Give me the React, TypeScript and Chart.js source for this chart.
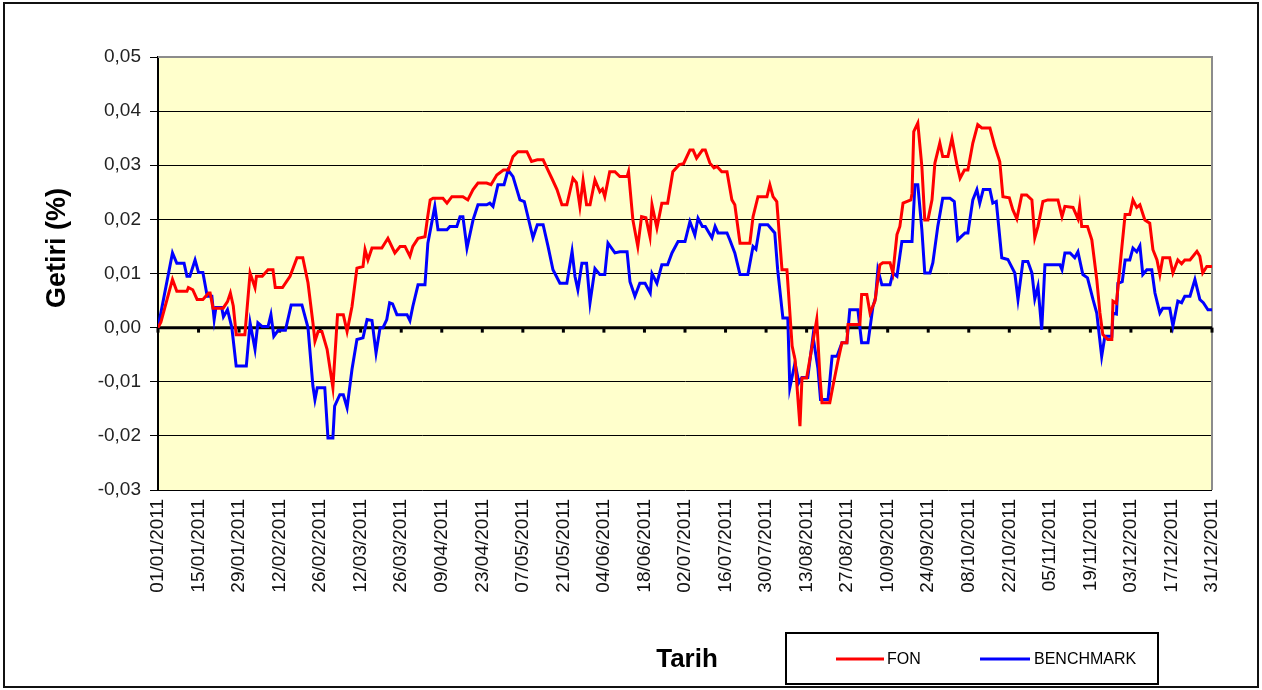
import React, { useEffect, useRef } from 'react';
import { Chart, registerables } from 'chart.js';

Chart.register(...registerables);

// X axis tick labels (every 14 days from 01/01/2011)
const tickLabels = [
  '01/01/2011', '15/01/2011', '29/01/2011', '12/02/2011', '26/02/2011', '12/03/2011', '26/03/2011',
  '09/04/2011', '23/04/2011', '07/05/2011', '21/05/2011', '04/06/2011', '18/06/2011', '02/07/2011',
  '16/07/2011', '30/07/2011', '13/08/2011', '27/08/2011', '10/09/2011', '24/09/2011', '08/10/2011',
  '22/10/2011', '05/11/2011', '19/11/2011', '03/12/2011', '17/12/2011', '31/12/2011',
];

const seriesNames = ['FON', 'BENCHMARK'];

// FON (red): day of year (0 = 01/01/2011) and value
const fonDays = [
  0, 1, 5, 6.5, 10, 10.5, 12, 13.5, 15.5, 17.5, 18, 19, 22.5, 24, 25, 26, 27, 30, 31.8, 33.5,
  34, 36, 38, 39.7, 40.5, 43, 45.6, 48, 50, 51.8, 53.5, 54.2, 55.3, 56.6, 58.4, 60.4, 62, 64, 65.3, 67,
  68.7, 70.8, 71.5, 72.5, 73.9, 77.3, 79.4, 81.8, 83.6, 85.3, 87, 88, 89.8, 92.2, 93, 94, 95, 98.4, 99.8, 101.5,
  105.3, 107, 108.8, 110.5, 113.5, 115, 117, 119.3, 121, 122.6, 124.3, 127.4, 129, 131, 133, 134.3, 136, 137.8, 139.5, 141.2,
  143.3, 144.5, 145.7, 146.8, 148, 149.2, 150.9, 152.6, 153.5, 154.3, 156, 157.8, 159.5, 162, 162.5, 164, 165.7, 167, 168.5, 169.9,
  170.6, 172.3, 174, 176, 177.8, 180, 181.5, 183.7, 184.8, 186, 188, 189, 190.6, 192, 193, 194.7, 196.5, 198.2, 199.2, 201,
  204.4, 205.5, 207.2, 210.3, 211.3, 212.4, 213.7, 215.5, 217.2, 219, 220, 221.7, 222.4, 224, 227.5, 228.6, 229.3, 232, 233.1, 234.8,
  236.2, 237.9, 238.3, 242.4, 243, 244.8, 245.9, 247.6, 249.3, 250.3, 252.8, 253.8, 255.2, 256.2, 257.3, 260, 260.4, 261, 262.4, 263.8,
  264.8, 265.9, 267.3, 268.3, 270, 271, 272.8, 274.2, 275.9, 277, 278.5, 279.7, 281.4, 283.1, 284.5, 287.3, 289, 290.7, 291.8, 294,
  295.2, 296.6, 298.3, 300, 301.8, 302.8, 303.9, 305.6, 307.3, 310.8, 312.2, 313.2, 316, 317.7, 318.3, 319, 321, 322.5, 324.2, 325.3,
  326.3, 328, 329.4, 329.8, 331, 332.9, 334, 335.6, 336.7, 338, 339.1, 340.8, 342.5, 343.6, 345, 346, 347, 349.4, 350.5, 352.2,
  353.5, 354.6, 356.4, 358.8, 359.8, 360.8, 362.2, 364,
];
const fonValues = [
  0, 0.001, 0.0089, 0.0067, 0.0067, 0.0074, 0.007, 0.0052, 0.0052, 0.0064, 0.0064, 0.0036, 0.0036, 0.0048, 0.0064, 0.004, -0.0013, -0.0013, 0.0101, 0.0074,
  0.0095, 0.0095, 0.0107, 0.0107, 0.0074, 0.0074, 0.0095, 0.0129, 0.0129, 0.0083, 0.0009, -0.0025, -0.0007, -0.0007, -0.004, -0.0111, 0.0024, 0.0024, -0.0007, 0.0039,
  0.011, 0.0113, 0.0144, 0.0125, 0.0147, 0.0147, 0.0165, 0.0138, 0.015, 0.015, 0.0132, 0.015, 0.0165, 0.0168, 0.02, 0.0236, 0.0239, 0.0239, 0.023, 0.0242,
  0.0242, 0.0236, 0.0255, 0.0267, 0.0267, 0.0264, 0.0282, 0.0291, 0.0291, 0.0316, 0.0325, 0.0325, 0.0307, 0.031, 0.031, 0.0295, 0.0276, 0.0255, 0.0227, 0.0227,
  0.0276, 0.0268, 0.0224, 0.0272, 0.0227, 0.0227, 0.0273, 0.0251, 0.0256, 0.0242, 0.0288, 0.0288, 0.0279, 0.0279, 0.0288, 0.0199, 0.015, 0.0205, 0.0203, 0.0168,
  0.0227, 0.0184, 0.023, 0.023, 0.0288, 0.0301, 0.0303, 0.0328, 0.0328, 0.0313, 0.0328, 0.0328, 0.0304, 0.0295, 0.0298, 0.0288, 0.0288, 0.0236, 0.0227, 0.0156,
  0.0156, 0.0205, 0.0242, 0.0242, 0.0264, 0.0242, 0.0233, 0.0107, 0.0107, -0.0034, -0.0059, -0.0182, -0.0093, -0.0093, 0.0015, -0.009, -0.0139, -0.0139, -0.0108, -0.0062,
  -0.0028, -0.0028, 0.0006, 0.0006, 0.0061, 0.0061, 0.0027, 0.0049, 0.0116, 0.012, 0.012, 0.0101, 0.0172, 0.0187, 0.023, 0.0236, 0.0248, 0.0362, 0.0378, 0.0298,
  0.0199, 0.0199, 0.0236, 0.0304, 0.0341, 0.0316, 0.0316, 0.035, 0.0301, 0.0276, 0.0291, 0.0291, 0.0341, 0.0375, 0.0369, 0.0369, 0.0335, 0.0307, 0.0242, 0.024,
  0.0218, 0.0201, 0.0245, 0.0245, 0.0236, 0.0166, 0.0187, 0.0233, 0.0236, 0.0236, 0.0205, 0.0224, 0.0222, 0.0201, 0.0224, 0.0187, 0.0187, 0.0162, 0.0089, 0.0027,
  -0.0013, -0.0022, -0.0022, 0.0049, 0.0045, 0.015, 0.0209, 0.0209, 0.0236, 0.0222, 0.0227, 0.0199, 0.0193, 0.0144, 0.0125, 0.0098, 0.0129, 0.0129, 0.0101, 0.0125,
  0.0118, 0.0125, 0.0125, 0.0141, 0.0132, 0.0101, 0.0113, 0.0113,
];

// BENCHMARK (blue)
const benchDays = [
  0, 5, 6.5, 9, 10, 11, 12.8, 14, 15.5, 17, 18.6, 19.4, 20, 22, 22.6, 24, 25.5, 27, 30.5, 31.8,
  33.5, 34.5, 36, 38, 39, 40, 41.5, 44, 46, 49.7, 51.8, 53.5, 54.2, 55, 57.6, 58.7, 60.4, 61, 62.8, 64,
  65.3, 67, 68.7, 70.8, 72.2, 73.9, 75.3, 76.7, 77.7, 79, 80, 81, 82.5, 86, 87, 88, 89.8, 92.2, 93.2, 95.6,
  96.7, 99.8, 100.8, 103.2, 104.3, 105.3, 106.7, 108.8, 110.5, 113.5, 114.6, 115.7, 117.4, 119.5, 120.9, 122.6, 125, 126.5, 129.5, 131,
  133, 134.7, 136.4, 138.8, 141.2, 143, 144, 145, 146.4, 148, 149.2, 150.9, 152.6, 154.3, 155.4, 157.8, 159.5, 162, 163, 164.7,
  166.4, 168.2, 170, 170.6, 172.3, 174, 176, 177.5, 179.6, 182, 183.7, 185.4, 186.5, 188, 189, 191.3, 192.4, 193.4, 196.5, 197.5,
  199.2, 201, 203.7, 205.5, 206.5, 207.9, 210.6, 213, 214, 215.8, 217.5, 218.2, 220, 221.3, 222.4, 224.4, 226.2, 227.9, 228.8, 231.4,
  232.8, 234.5, 236.2, 237.9, 238.9, 241.7, 243, 245.2, 246.9, 247.8, 248.6, 250, 252.8, 253.8, 255.2, 256.9, 260.4, 261.4, 262.4, 263.8,
  264.8, 266.6, 267.6, 269.3, 271, 273.5, 275, 276.2, 278.7, 279.7, 281.4, 282.8, 283.8, 285, 287.3, 288.3, 289.5, 291.4, 293.5, 295.9,
  297, 298.7, 300.4, 301.8, 302.8, 303.9, 305.2, 306.3, 311.5, 312.2, 313.2, 315, 316.6, 317.7, 319.4, 321, 322.9, 324.2, 325.9, 327,
  329.4, 329.8, 331, 331.5, 333, 334, 335.6, 336.7, 338, 339.1, 340.1, 341.5, 343.2, 344.3, 346, 347, 349.4, 350.5, 352.2, 353.5,
  354.6, 356.4, 358.1, 359.8, 361, 362.6, 364,
];
const benchValues = [
  0, 0.0138, 0.0119, 0.0119, 0.0095, 0.0095, 0.0125, 0.0102, 0.0102, 0.0058, 0.0058, 0.0015, 0.0037, 0.0037, 0.002, 0.0033, 0.0, -0.0071, -0.0071, 0.0009,
  -0.004, 0.0009, 0.0002, 0.0002, 0.0024, -0.0016, -0.0005, -0.0005, 0.0042, 0.0042, 0.0, -0.0108, -0.0133, -0.0111, -0.0111, -0.0204, -0.0204, -0.0145, -0.0124, -0.0124,
  -0.0148, -0.0077, -0.0022, -0.0019, 0.0015, 0.0013, -0.0047, 0.0, 0.0, 0.0015, 0.0046, 0.0044, 0.0024, 0.0024, 0.0013, 0.0039, 0.0079, 0.0079, 0.0156, 0.0224,
  0.0181, 0.0181, 0.0187, 0.0187, 0.0205, 0.0205, 0.0147, 0.0199, 0.0227, 0.0227, 0.023, 0.0224, 0.0264, 0.0264, 0.0291, 0.0279, 0.0236, 0.0233, 0.0166, 0.019,
  0.019, 0.015, 0.0107, 0.0082, 0.0082, 0.0141, 0.0095, 0.007, 0.0119, 0.0119, 0.0046, 0.0109, 0.0098, 0.0098, 0.0156, 0.0138, 0.014, 0.014, 0.0085, 0.0058,
  0.0082, 0.0082, 0.0064, 0.01, 0.0082, 0.0116, 0.0116, 0.0138, 0.0159, 0.0159, 0.0196, 0.0171, 0.0202, 0.0187, 0.0187, 0.0166, 0.0187, 0.0175, 0.0175, 0.0162,
  0.0138, 0.0098, 0.0098, 0.015, 0.0145, 0.019, 0.019, 0.0175, 0.0107, 0.0018, 0.0018, -0.0111, -0.0065, -0.0102, -0.0092, -0.0092, -0.0016, -0.0075, -0.0133, -0.0133,
  -0.0053, -0.0053, -0.0028, -0.0028, 0.0033, 0.0033, -0.0028, -0.0028, 0.0039, 0.0055, 0.0107, 0.0079, 0.0079, 0.0101, 0.0095, 0.0159, 0.0159, 0.0264, 0.0264, 0.0181,
  0.0101, 0.0101, 0.012, 0.0187, 0.0239, 0.0239, 0.0233, 0.0162, 0.0175, 0.0175, 0.0236, 0.0255, 0.023, 0.0255, 0.0255, 0.023, 0.0233, 0.0129, 0.0126, 0.0101,
  0.0052, 0.0122, 0.0122, 0.0101, 0.0053, 0.0076, -0.0004, 0.0116, 0.0116, 0.0107, 0.0138, 0.0138, 0.0129, 0.014, 0.0098, 0.0092, 0.0052, 0.0027, -0.0053, -0.0016,
  -0.0016, 0.0027, 0.0025, 0.0082, 0.0085, 0.0125, 0.0125, 0.0147, 0.014, 0.0151, 0.0098, 0.0107, 0.0107, 0.0064, 0.0027, 0.0036, 0.0036, 0.0003, 0.0049, 0.0046,
  0.0058, 0.0058, 0.0089, 0.0052, 0.0046, 0.0033, 0.0033,
];

const FONT = 'Arial, "Liberation Sans", sans-serif';
const RED = '#FF0000';
const BLUE = '#0000FF';

export default function App() {
  const ref = useRef<HTMLCanvasElement>(null);

  useEffect(() => {
    if (!ref.current) return;
    const toPts = (d: number[], v: number[]) => d.map((x, i) => ({ x, y: v[i] }));

    const decor = {
      id: 'decor',
      beforeDraw(chart: any) {
        const { ctx, chartArea: a } = chart;
        ctx.save();
        ctx.fillStyle = '#FFFFFF';
        ctx.fillRect(0, 0, chart.width, chart.height);
        ctx.fillStyle = '#FFFFCC';
        ctx.fillRect(a.left, a.top, a.right - a.left, a.bottom - a.top);
        ctx.restore();
      },
      beforeDatasetsDraw(chart: any) {
        const { ctx, chartArea: a, scales } = chart;
        const y0 = scales.y.getPixelForValue(0);
        ctx.save();
        // plot border (right/top) gray
        ctx.strokeStyle = '#8c8c8c';
        ctx.lineWidth = 2;
        ctx.beginPath();
        ctx.moveTo(a.left, a.top);
        ctx.lineTo(a.right, a.top);
        ctx.lineTo(a.right, a.bottom);
        ctx.stroke();
        // zero axis line with ticks
        ctx.strokeStyle = '#000';
        ctx.lineWidth = 3;
        ctx.beginPath();
        ctx.moveTo(a.left, y0);
        ctx.lineTo(a.right, y0);
        ctx.stroke();
        ctx.lineWidth = 3;
        tickLabels.forEach((_, i) => {
          const x = scales.x.getPixelForValue(i * 14);
          ctx.beginPath();
          ctx.moveTo(x, y0);
          ctx.lineTo(x, y0 + 5);
          ctx.stroke();
        });
        ctx.restore();
      },
      afterDraw(chart: any) {
        const { ctx } = chart;
        ctx.save();
        // outer frame
        ctx.strokeStyle = '#111';
        ctx.lineWidth = 2;
        ctx.strokeRect(4, 3, 1254, 684);
        // axis titles
        ctx.fillStyle = '#000';
        ctx.font = `bold 27px ${FONT}`;
        ctx.textAlign = 'center';
        ctx.textBaseline = 'middle';
        ctx.save();
        ctx.translate(58, 248);
        ctx.rotate(-Math.PI / 2);
        ctx.fillText('Getiri (%)', 0, 0);
        ctx.restore();
        ctx.font = `bold 26px ${FONT}`;
        ctx.fillText('Tarih', 687, 660);
        // legend box
        ctx.lineWidth = 2;
        ctx.strokeStyle = '#000';
        ctx.strokeRect(786, 633, 372, 51);
        ctx.lineWidth = 3;
        ctx.strokeStyle = RED;
        ctx.beginPath();
        ctx.moveTo(836, 659);
        ctx.lineTo(884, 659);
        ctx.stroke();
        ctx.strokeStyle = BLUE;
        ctx.beginPath();
        ctx.moveTo(980, 659);
        ctx.lineTo(1030, 659);
        ctx.stroke();
        ctx.font = `16px ${FONT}`;
        ctx.textAlign = 'left';
        ctx.fillStyle = '#000';
        ctx.fillText(seriesNames[0], 887, 660);
        ctx.fillText(seriesNames[1], 1034, 660);
        ctx.restore();
      },
    };

    const chart = new Chart(ref.current, {
      type: 'line',
      data: {
        datasets: [
          {
            label: seriesNames[0],
            data: toPts(fonDays, fonValues),
            borderColor: RED,
            borderWidth: 3,
            pointRadius: 0,
            tension: 0,
            fill: false,
          },
          {
            label: seriesNames[1],
            data: toPts(benchDays, benchValues),
            borderColor: BLUE,
            borderWidth: 3,
            pointRadius: 0,
            tension: 0,
            fill: false,
          },
        ],
      },
      options: {
        animation: false,
        responsive: false,
        maintainAspectRatio: false,
        layout: { padding: { left: 0, right: 50, top: 57, bottom: 0 } },
        plugins: { legend: { display: false }, tooltip: { enabled: false } },
        scales: {
          x: {
            type: 'linear',
            min: 0,
            max: 364,
            afterFit: (s: any) => { s.height = 200; },
            grid: { display: false, drawTicks: false },
            border: { display: false },
            ticks: {
              stepSize: 14,
              autoSkip: false,
              maxRotation: 90,
              minRotation: 90,
              padding: 9,
              color: '#111',
              font: { family: FONT, size: 19 },
              callback: (v: any) => tickLabels[Math.round(Number(v) / 14)] ?? '',
            },
          },
          y: {
            min: -0.03,
            max: 0.05,
            afterFit: (s: any) => { s.width = 158; },
            border: { color: '#000', width: 2 },
            grid: {
              color: (c: any) => (c.tick && Math.abs(c.tick.value - 0.05) < 1e-9 ? '#8c8c8c' : '#000'),
              lineWidth: 1,
              tickLength: 8,
              tickColor: '#000',
            },
            ticks: {
              stepSize: 0.01,
              padding: 9,
              color: '#222',
              font: { family: FONT, size: 19 },
              callback: (v: any) => Number(v).toFixed(2).replace('.', ','),
            },
          },
        },
      },
      plugins: [decor],
    });
    return () => chart.destroy();
  }, []);

  return (
    <div style={{ position: 'fixed', left: 0, top: 0, width: 1262, height: 690, background: '#fff' }}>
      <canvas ref={ref} width={1262} height={690} style={{ width: 1262, height: 690, display: 'block' }} />
    </div>
  );
}
